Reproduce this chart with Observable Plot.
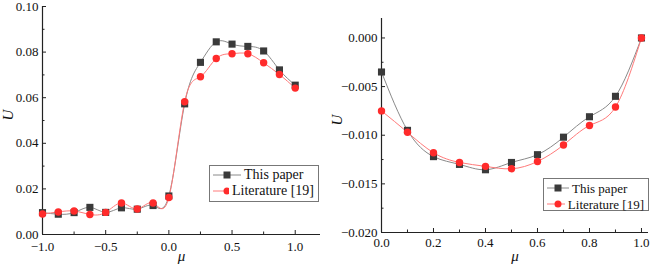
<!DOCTYPE html>
<html>
<head>
<meta charset="utf-8">
<script src="https://cdn.jsdelivr.net/npm/d3@7"></script>
<script src="https://cdn.jsdelivr.net/npm/@observablehq/plot@0.6"></script>
<style>
  html, body { margin: 0; padding: 0; background: #fff; }
  #wrap { position: relative; width: 650px; height: 270px; display: flex; font-family: 'Liberation Serif', Tinos, 'Times New Roman', 'DejaVu Serif', serif; }
  #wrap > div { position: relative; }
  #wrap svg, #wrap svg text { font-family: 'Liberation Serif', Tinos, 'Times New Roman', 'DejaVu Serif', serif !important; }
  .legend { position: absolute; border: 1px solid #777; background: #fff; font-size: 14px; color: #111; line-height: 16px; padding: 1px 4px 1px 3px; box-sizing: border-box; }
  .legend .row { display: flex; align-items: center; white-space: nowrap; }
  .legend svg { margin-right: 3px; }
</style>
</head>
<body>
<div id="wrap"><div id="left"></div><div id="right"></div></div>
<script>
// ---- data ----
const leftMu = [-1, -0.875, -0.75, -0.625, -0.5, -0.375, -0.25, -0.125, 0, 0.125, 0.25, 0.375, 0.5, 0.625, 0.75, 0.875, 1];
const leftPaper = [0.0096, 0.0089, 0.0096, 0.0119, 0.0097, 0.0117, 0.0111, 0.0127, 0.0169, 0.0573, 0.0755, 0.0845, 0.0835, 0.0825, 0.0805, 0.0722, 0.0655];
const leftLit   = [0.0090, 0.0099, 0.0103, 0.0088, 0.0097, 0.0138, 0.0112, 0.0138, 0.0162, 0.0582, 0.0692, 0.0772, 0.0793, 0.0793, 0.0753, 0.0702, 0.0642];

const rightMu = [0, 0.1, 0.2, 0.3, 0.4, 0.5, 0.6, 0.7, 0.8, 0.9, 1.0];
const rightPaper = [-0.0035, -0.0095, -0.0122, -0.0130, -0.01355, -0.0128, -0.0120, -0.0102, -0.0081, -0.0060, 0.0000];
const rightLit   = [-0.0075, -0.0097, -0.0118, -0.0128, -0.0132, -0.01345, -0.0127, -0.0110, -0.0090, -0.0071, 0.0000];

const seriesNames = ["This paper", "Literature [19]"];

const leftXTicks = [-1.0, -0.5, 0.0, 0.5, 1.0];
const leftXMinor = [-0.75, -0.25, 0.25, 0.75];
const leftYTicks = [0.00, 0.02, 0.04, 0.06, 0.08, 0.10];
const leftYMinor = [0.01, 0.03, 0.05, 0.07, 0.09];

const rightXTicks = [0.0, 0.2, 0.4, 0.6, 0.8, 1.0];
const rightXMinor = [0.1, 0.3, 0.5, 0.7, 0.9];
const rightYTicks = [0.000, -0.005, -0.010, -0.015, -0.020];
const rightYMinor = [-0.0025, -0.0075, -0.0125, -0.0175];

// ---- styles ----
const paperLine = "#8a8a8a", paperFill = "#3a3a3a";
const litLine = "#ff7a7a", litFill = "#ff2b2b";
const font = "'Liberation Serif', Tinos, 'Times New Roman', 'DejaVu Serif', serif";

function panel(opts) {
  const {width, height, ml, mr, mt, mb, xDomain, yDomain, mu, paper, lit,
         xTicks, xMinor, yTicks, yMinor, xFmt, yFmt, xLabelDy, yLabelX} = opts;
  const iw = width - ml - mr, ih = height - mt - mb;
  const rows = (ys) => mu.map((m, i) => ({mu: m, U: ys[i]}));
  return Plot.plot({
    width, height,
    marginLeft: ml, marginRight: mr, marginTop: mt, marginBottom: mb,
    style: {fontFamily: font, fontSize: "13px", color: "#111", background: "transparent", overflow: "visible"},
    x: {domain: xDomain},
    y: {domain: yDomain},
    marks: [
      Plot.ruleX([xDomain[0]], {stroke: "#222", strokeWidth: 1.2}),
      Plot.ruleY([yDomain[0]], {stroke: "#222", strokeWidth: 1.2}),
      Plot.tickX(xTicks, {x: d => d, insetTop: ih - 4, stroke: "#222"}),
      Plot.tickX(xMinor, {x: d => d, insetTop: ih - 2.5, stroke: "#222"}),
      Plot.tickY(yTicks, {y: d => d, insetRight: iw - 4, stroke: "#222"}),
      Plot.tickY(yMinor, {y: d => d, insetRight: iw - 2.5, stroke: "#222"}),
      Plot.axisX({ticks: xTicks, tickSize: 0, tickPadding: xLabelDy, tickFormat: xFmt, fontSize: 13, fontFamily: font, label: null}),
      Plot.axisY({ticks: yTicks, tickSize: 0, tickPadding: 4, tickFormat: yFmt, fontSize: 13, fontFamily: font, label: null}),
      Plot.line(rows(paper), {x: "mu", y: "U", curve: "natural", stroke: paperLine, strokeWidth: 1}),
      Plot.line(rows(lit), {x: "mu", y: "U", curve: "natural", stroke: litLine, strokeWidth: 1}),
      Plot.dot(rows(paper), {x: "mu", y: "U", symbol: "square", r: 4, fill: paperFill, stroke: "none"}),
      Plot.dot(rows(lit), {x: "mu", y: "U", symbol: "circle", r: 3.7, fill: litFill, stroke: "none"}),
      Plot.text(["μ"], {frameAnchor: "bottom", dy: mb - 10, text: d => d, fontStyle: "italic", fontSize: 15, fontFamily: font}),
      Plot.text(["U"], {frameAnchor: "left", dx: yLabelX - ml, text: d => d, fontStyle: "italic", fontSize: 15, fontFamily: font, rotate: -90})
    ]
  });
}

const left = panel({
  width: 325, height: 270, ml: 42, mr: 5, mt: 6, mb: 36,
  xDomain: [-1, 1.2], yDomain: [0, 0.1],
  mu: leftMu, paper: leftPaper, lit: leftLit,
  xTicks: leftXTicks, xMinor: leftXMinor, yTicks: leftYTicks, yMinor: leftYMinor,
  xFmt: d3.format(".1f"), yFmt: d3.format(".2f"), xLabelDy: 7, yLabelX: 8
});
const right = panel({
  width: 325, height: 270, ml: 56, mr: 2, mt: 18, mb: 38,
  xDomain: [0, 1.027], yDomain: [-0.020, 0.002],
  mu: rightMu, paper: rightPaper, lit: rightLit,
  xTicks: rightXTicks, xMinor: rightXMinor, yTicks: rightYTicks, yMinor: rightYMinor,
  xFmt: d3.format(".1f"), yFmt: d3.format(".3f"), xLabelDy: 5, yLabelX: 12
});

document.getElementById("left").appendChild(left);
document.getElementById("right").appendChild(right);

function legend(container, box, lineLen, fontSize) {
  const el = document.createElement("div");
  el.className = "legend";
  Object.assign(el.style, box);
  el.style.fontSize = fontSize + "px";
  const specs = [
    {name: seriesNames[0], line: paperLine, fill: paperFill, sym: "square"},
    {name: seriesNames[1], line: litLine, fill: litFill, sym: "circle"}
  ];
  for (const s of specs) {
    const row = document.createElement("div");
    row.className = "row";
    const c = lineLen / 2;
    const mark = s.sym === "square"
      ? `<rect x="${c - 3.5}" y="4.5" width="7" height="7" fill="${s.fill}"/>`
      : `<circle cx="${c}" cy="8" r="3.5" fill="${s.fill}"/>`;
    row.innerHTML = `<svg width="${lineLen}" height="16"><line x1="0" x2="${lineLen}" y1="8" y2="8" stroke="${s.line}" stroke-width="1"/>${mark}</svg><span>${s.name}</span>`;
    el.appendChild(row);
  }
  container.appendChild(el);
}
legend(document.getElementById("left"), {left: "209px", top: "165px", width: "110px", height: "37px"}, 28, 14);
legend(document.getElementById("right"), {left: "218px", top: "178px", width: "106px", height: "33px", lineHeight: "15px"}, 22, 13);
</script>
</body>
</html>
